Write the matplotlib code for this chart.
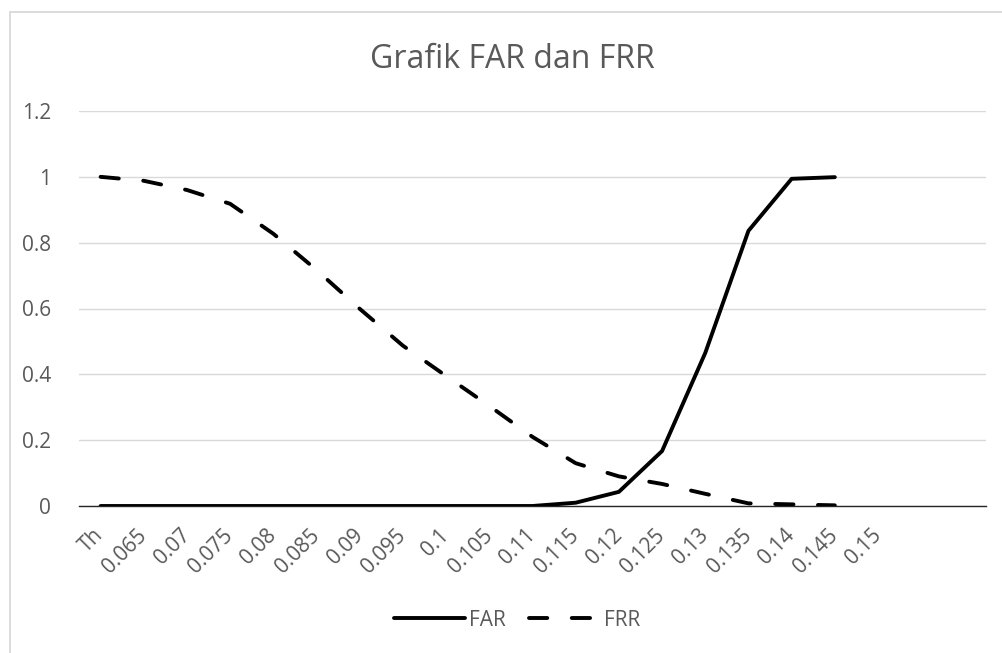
import matplotlib
matplotlib.use("Agg")
import matplotlib.pyplot as plt
from matplotlib.patches import Rectangle
import numpy as np

categories = ['Th', '0.065', '0.07', '0.075', '0.08', '0.085', '0.09', '0.095', '0.1',
              '0.105', '0.11', '0.115', '0.12', '0.125', '0.13', '0.135', '0.14', '0.145',
              '0.15', '', '', '']
far = [0, 0, 0, 0, 0, 0, 0, 0, 0, 0, 0, 0.01, 0.043, 0.167, 0.465, 0.836, 0.994, 0.999]
frr = [1.0, 0.988, 0.96, 0.918, 0.827, 0.717, 0.599, 0.487, 0.395, 0.304, 0.21, 0.13,
       0.09, 0.067, 0.037, 0.008, 0.005, 0.002]
y_ticks = [0, 0.2, 0.4, 0.6, 0.8, 1, 1.2]
y_labels = ['0', '0.2', '0.4', '0.6', '0.8', '1', '1.2']

plt.rcParams['font.family'] = ['Open Sans', 'DejaVu Sans']
txt = '#595959'
grid = '#d9d9d9'
fs = 15

fig = plt.figure(figsize=(10.02, 6.53), dpi=100)
fig.patch.set_facecolor('white')

# chart frame (left and top visible)
fig.add_artist(Rectangle((10 / 1002, -0.1), 1.2, 1 - 12 / 653 + 0.1,
                         transform=fig.transFigure, fill=False,
                         edgecolor=grid, linewidth=1.3))

ax = fig.add_axes([79 / 1002, 1 - 506 / 653, (986 - 79) / 1002, (506 - 111) / 653])
n = 21
ax.set_xlim(-0.5, n - 0.5)
ax.set_ylim(0, 1.2)

x_far = np.arange(len(far))
x_frr = np.arange(len(frr))
lw = 2.8
ax.plot(x_far, far, color='black', lw=lw, solid_capstyle='round',
        solid_joinstyle='round', label='FAR', zorder=3)
ax.plot(x_frr, frr, color='black', lw=lw, linestyle=(0, (4.7, 6.3)),
        dash_capstyle='round', label='FRR', zorder=3)

ax.set_yticks(y_ticks)
ax.set_yticklabels(y_labels, color=txt, fontsize=fs)
ax.set_xticks(range(n))
ax.set_xticklabels(categories[:n], color=txt, fontsize=fs, rotation=45,
                   ha='right', va='center', rotation_mode='anchor')
ax.tick_params(axis='both', length=0)
ax.tick_params(axis='x', pad=19)
ax.tick_params(axis='y', pad=20)
ax.grid(axis='y', color=grid, lw=1.0)
ax.set_axisbelow(True)
for s in ['top', 'right', 'left']:
    ax.spines[s].set_visible(False)
ax.spines['bottom'].set_color('#262626')
ax.spines['bottom'].set_linewidth(1.0)
ax.spines['bottom'].set_zorder(2.5)

fig.text(512 / 1002, 1 - 60 / 653, 'Grafik FAR dan FRR', ha='center', va='center',
         fontsize=23, color=txt)

leg = fig.legend(loc='center', bbox_to_anchor=(517 / 1002, 1 - 620 / 653), ncol=2,
                 frameon=False, fontsize=fs, handlelength=3.4, handletextpad=0.2,
                 columnspacing=1.1)
for t in leg.get_texts():
    t.set_color(txt)

fig.savefig('out.png', dpi=100, facecolor='white')
